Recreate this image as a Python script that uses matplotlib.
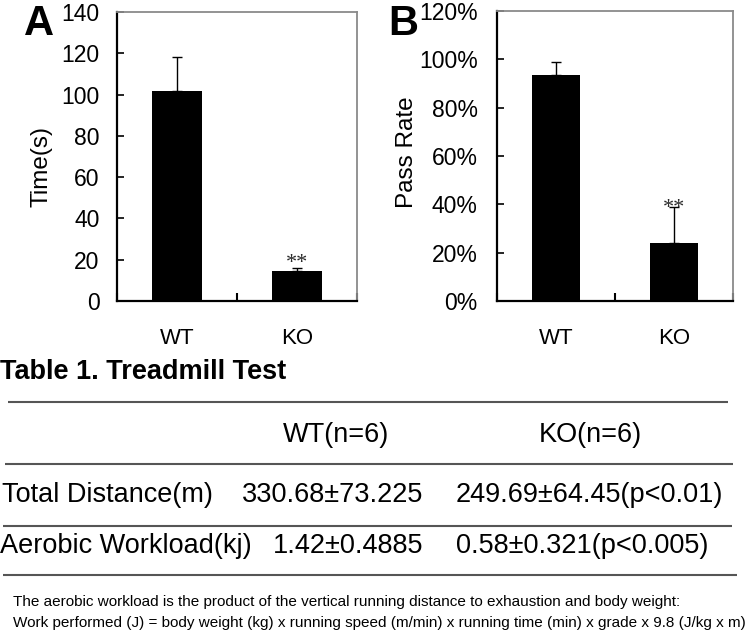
import matplotlib
matplotlib.use("Agg")
import matplotlib.pyplot as plt

plt.rcParams['font.family'] = ['Liberation Sans', 'DejaVu Sans']

# ---------------- data ----------------
groups = ["WT", "KO"]
time_means = [101.5, 14.5]
time_errs = [16.5, 1.6]
pass_means = [93.5, 24.0]
pass_errs = [5.2, 14.8]
time_ticks = [0, 20, 40, 60, 80, 100, 120, 140]
pass_ticks = [0, 20, 40, 60, 80, 100, 120]
sig_marks = ["", "**"]

table_title = "Table 1. Treadmill Test"
table_columns = ["WT(n=6)", "KO(n=6)"]
table_rows = ["Total Distance(m)", "Aerobic Workload(kj)"]
table_wt = ["330.68±73.225", "1.42±0.4885"]
table_ko = ["249.69±64.45(p<0.01)", "0.58±0.321(p<0.005)"]
footnote = [
    "The aerobic workload is the product of the vertical running distance to exhaustion and body weight:",
    "Work performed (J) = body weight (kg) x running speed (m/min) x running time (min) x grade x 9.8 (J/kg x m)",
]

W, H = 750, 632
fig = plt.figure(figsize=(7.5, 6.32), dpi=100)


def px_axes(l, t, r, b):
    return fig.add_axes([l / W, 1 - b / H, (r - l) / W, (b - t) / H])


def bar_panel(ax, means, errs, ticks, ylabel, fmt, label_x, label_y, ypad, sig_off):
    x = [0.5 + i for i in range(len(means))]
    ax.bar(x, means, width=0.41, color='black', zorder=2)
    ax.errorbar(x, means, yerr=[[0] * len(errs), errs], fmt='none',
                ecolor='black', elinewidth=1, capsize=3.5, capthick=1, zorder=3)
    for xi, m, e, s in zip(x, means, errs, sig_marks):
        if s:
            ax.annotate(s, (xi, m + e), xytext=(0, sig_off), textcoords='offset points',
                        ha='center', va='baseline', fontsize=16, color='#2a2a2a',
                        family=['Liberation Serif', 'DejaVu Serif'])
    ax.set_xlim(0, len(means))
    ax.set_ylim(ticks[0], ticks[-1])
    ax.set_yticks(ticks)
    ax.set_yticklabels([fmt(t) for t in ticks])
    ax.set_xticks(range(len(means) + 1))
    ax.set_xticklabels([])
    ax.set_xticks(x, minor=True)
    ax.set_xticklabels(groups, minor=True)
    ax.tick_params(axis='y', direction='in', length=5, width=1.2, labelsize=16.5, pad=ypad)
    ax.tick_params(axis='x', which='major', direction='in', length=6, width=1.5)
    ax.tick_params(axis='x', which='minor', length=0, labelsize=16, pad=19.5)
    for sp in ['left', 'bottom']:
        ax.spines[sp].set_color('black')
        ax.spines[sp].set_linewidth(1.6)
    for sp in ['top', 'right']:
        ax.spines[sp].set_color('#8a8a8a')
        ax.spines[sp].set_linewidth(1.3)
    ax.set_ylabel(ylabel, fontsize=17.5, va='center')
    ax.yaxis.set_label_coords(label_x, label_y)


axA = px_axes(117, 12, 357, 301)
bar_panel(axA, time_means, time_errs, time_ticks, "Time(s)", lambda v: f"{v}",
          -0.315, 0.464, 12.5, 0)
axB = px_axes(497, 11, 733, 301)
bar_panel(axB, pass_means, pass_errs, pass_ticks, "Pass Rate", lambda v: f"{v}%",
          -0.383, 0.514, 14, -4)

fig.text(24 / W, 1 - 35 / H, "A", fontsize=30, fontweight='bold', va='baseline')
fig.text(388 / W, 1 - 35 / H, "B", fontsize=30, fontweight='bold', va='baseline')

# ---------------- table (pixel overlay) ----------------
ov = fig.add_axes([0, 0, 1, 1])
ov.set_xlim(0, W)
ov.set_ylim(H, 0)
ov.axis('off')
ov.patch.set_visible(False)

ov.text(0, 379, table_title, fontsize=19.5, fontweight='bold', va='baseline', ha='left')

rule_ys = [402, 464, 526, 575]
rule_x0 = [8, 5, 3, 3]
rule_x1 = [728, 733, 732, 737]
for y, a, b in zip(rule_ys, rule_x0, rule_x1):
    ov.plot([a, b], [y, y], color='#555555', lw=1.5, solid_capstyle='butt')

tfs = 19.5
ov.text(336, 442, table_columns[0], fontsize=tfs, ha='center', va='baseline')
ov.text(590, 442, table_columns[1], fontsize=tfs, ha='center', va='baseline')
row_base = [502, 553]
row_lx = [2, 0]
for i, (lab, wt, ko) in enumerate(zip(table_rows, table_wt, table_ko)):
    ov.text(row_lx[i], row_base[i], lab, fontsize=tfs, ha='left', va='baseline')
    ov.text(423, row_base[i], wt, fontsize=tfs, ha='right', va='baseline')
    ov.text(456, row_base[i], ko, fontsize=tfs, ha='left', va='baseline')

ov.text(13, 606, footnote[0], fontsize=11, ha='left', va='baseline')
ov.text(13, 627, footnote[1], fontsize=11, ha='left', va='baseline')

fig.savefig("out.png", dpi=100)
